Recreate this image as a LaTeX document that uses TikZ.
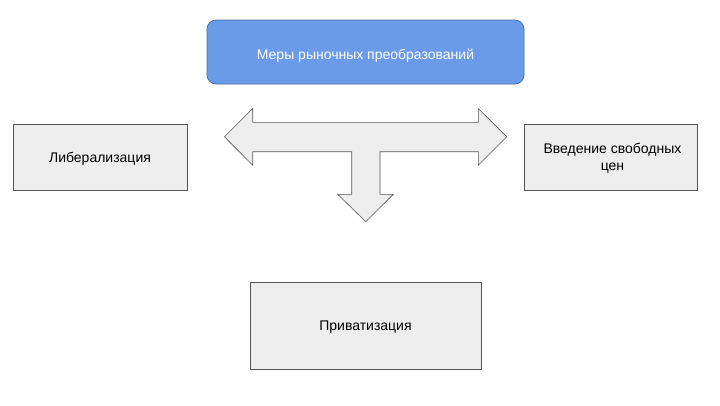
\documentclass[tikz,border=0pt]{standalone}
\usepackage{fontspec}
\setmainfont{Liberation Sans}
\definecolor{boxgray}{HTML}{EEEEEE}
\definecolor{edgegray}{HTML}{555555}
\definecolor{topblue}{HTML}{6A9BE8}
\definecolor{topedge}{HTML}{4A6A9A}
\begin{document}
\begin{tikzpicture}[x=1pt,y=-1pt,
  graybox/.style={draw=edgegray,fill=boxgray,line width=0.7pt,inner sep=0pt},
  txt/.style={inner sep=0pt,align=center,font=\fontsize{14}{17}\selectfont},
]
\useasboundingbox (0,0) rectangle (720,405);
\node[draw=topedge,fill=topblue,rounded corners=9pt,line width=0.7pt,minimum width=317pt,minimum height=64pt,inner sep=0pt] (top) at (365.5,52) {};
\node[txt,text=white] (toptxt) at ([yshift=-3.5pt]top.center) {Меры рыночных преобразований};
\node[graybox,minimum width=174pt,minimum height=66pt] (lib) at (100,157) {};
\node[txt] (libtxt) at ([yshift=-2pt]lib.center) {Либерализация};
\node[graybox,minimum width=173pt,minimum height=66pt] (prices) at (610.5,157) {};
\node[txt] (pricestxt) at ([xshift=2pt,yshift=-1.5pt]prices.center) {Введение свободных\\цен};
\node[graybox,minimum width=231pt,minimum height=87pt] (priv) at (365.5,325.5) {};
\node[txt] (privtxt) at ([yshift=-2pt]priv.center) {Приватизация};
\draw[draw=edgegray,fill=boxgray,line width=0.6pt,line join=miter]
  (224.5,136.8) -- (252.7,108.5) -- (252.7,122.3) -- (478.3,122.3) -- (478.3,108.5)
  -- (506.7,136.8) -- (478.3,165.2) -- (478.3,151.7) -- (380,151.7) -- (380,194.3)
  -- (393.3,194.3) -- (365.8,221.7) -- (337.7,194.3) -- (351.7,194.3) -- (351.7,151.7)
  -- (252.7,151.7) -- (252.7,165.2) -- cycle;
\end{tikzpicture}
\end{document}
